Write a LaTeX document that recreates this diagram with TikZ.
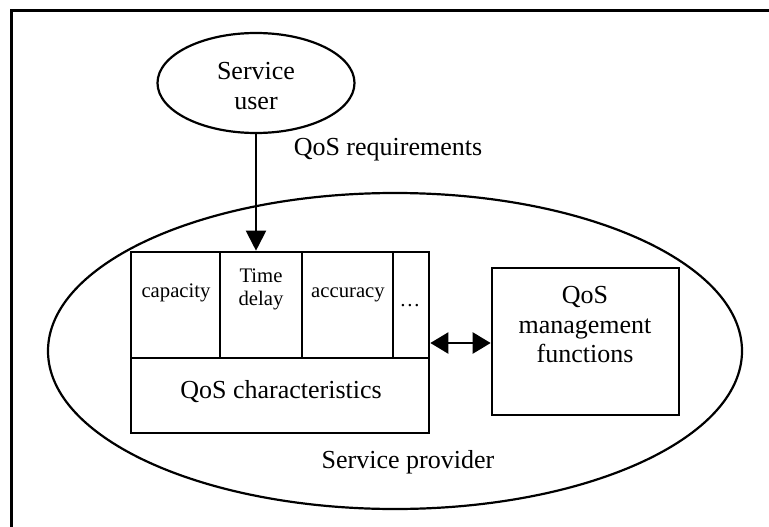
\documentclass[tikz,border=0pt]{standalone}
\usepackage{fontspec}
\setmainfont{Liberation Serif}
\usetikzlibrary{shapes.geometric,arrows.meta}
\begin{document}
\begin{tikzpicture}[x=1pt,y=-1pt,
  bigtext/.style={font=\fontsize{26}{29.5}\selectfont, align=center, inner sep=0pt},
  smalltext/.style={font=\fontsize{20.7}{23}\selectfont, align=center, inner sep=0pt},
  oval/.style={draw, ellipse, line width=2.2pt, inner sep=0pt},
  box/.style={draw, line width=2.6pt, inner sep=0pt},
  cell/.style={draw, line width=2.2pt, inner sep=0pt},
  link/.style={line width=2pt, -{Triangle[length=20pt,width=20pt]}},
  dlink/.style={line width=2.2pt, {Triangle[length=18pt,width=21pt]}-{Triangle[length=18pt,width=21pt]}}
]
\useasboundingbox (0,0) rectangle (769,527);
\fill[white] (0,0) rectangle (769,527);
% frame (only top and left edges are visible)
\coordinate (fbl) at (11,527);
\coordinate (ftl) at (11,11);
\coordinate (ftr) at (769,11);
\draw[line width=3pt] (fbl) -- (ftl) -- (ftr);

% service provider ellipse
\node[oval, minimum width=694pt, minimum height=316pt] (prov) at (395,351) {};
% service user
\node[oval, minimum width=197pt, minimum height=100pt] (user) at (256,83) {};
\node[bigtext] (usertxt) at (256,86) {Service\\user};

% QoS characteristics block
\node[box, minimum width=298pt, minimum height=181pt] (qos) at (280,342.5) {};
\node[cell, minimum width=89pt, minimum height=106pt] (cap) at (175.5,305) {};
\node[cell, minimum width=82pt, minimum height=106pt] (del) at (261,305) {};
\node[cell, minimum width=91pt, minimum height=106pt] (acc) at (347.5,305) {};
\node[cell, minimum width=36pt, minimum height=106pt] (dots) at (411,305) {};
\node[cell, minimum width=298pt, minimum height=75pt] (chars) at (280,395.5) {};
\node[smalltext, anchor=base] (captxt) at (176,297) {capacity};
\node[smalltext, anchor=base] (timetxt) at (261,282) {Time};
\node[smalltext, anchor=base] (deltxt) at (261,305) {delay};
\node[smalltext, anchor=base] (acctxt) at (348,297) {accuracy};
\node[smalltext, anchor=base] (dotstxt) at (410,306) {\dots};
\node[bigtext, anchor=base] (charstxt) at (281,398) {QoS characteristics};

% management functions
\node[box, minimum width=187pt, minimum height=147pt] (mgmt) at (585.5,341.5) {};
\node[bigtext] (mgmttxt) at (585,325) {QoS\\management\\functions};

% labels
\node[bigtext, anchor=base] (req) at (388,155) {QoS requirements};
\node[bigtext, anchor=base] (provtxt) at (408,468) {Service provider};

% connectors
\draw[link] (user.south) -- (user.south |- qos.north);
\draw[dlink] (qos.east |- 0,343) -- (mgmt.west |- 0,343);
\end{tikzpicture}
\end{document}
